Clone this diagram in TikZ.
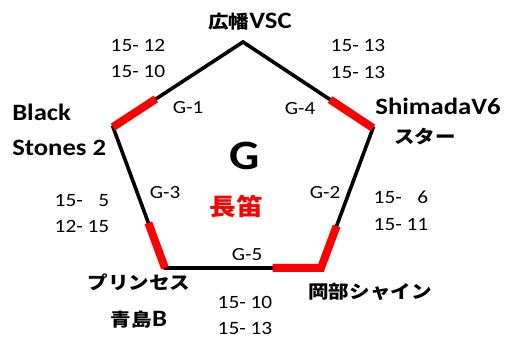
\documentclass[tikz,border=0pt]{standalone}
\usepackage{fontspec}
\setmainfont{Carlito}
\newfontfamily\jpfont{Noto Sans CJK JP}
\usetikzlibrary{calc}
\newcommand{\ja}[1]{{\jpfont\fontsize{15.4}{18}\selectfont #1}}
\begin{document}
\begin{tikzpicture}[
  x=0.75pt, y=-0.75pt,
  every node/.style={inner sep=0pt, yscale=0.88},
  team/.style={font=\bfseries\fontsize{20}{29.8}\selectfont, align=center},
  score/.style={font=\fontsize{16}{22.6}\selectfont, align=left},
  game/.style={font=\fontsize{15.8}{19}\selectfont},
  edge/.style={line width=2.7pt},
  win/.style={line width=6pt, red}
]
\useasboundingbox (0,0) rectangle (507,338);
% corners of the league
\coordinate (T) at (243,42);
\coordinate (L) at (113,127);
\coordinate (R) at (373,128);
\coordinate (BL) at (165,268);
\coordinate (BR) at (321,268);
\draw[edge] (T) -- (R) -- (BR) -- (BL) -- (L) -- cycle;
% winners
\draw[win] (L) -- ($(L)!0.33!(T)$);
\draw[win] (R) -- ($(R)!0.33!(T)$);
\draw[win] (BL) -- ($(BL)!0.32!(L)$);
\draw[win, miter limit=10] ($(BR)!0.31!(BL)$) -- (BR) -- ($(BR)!0.30!(R)$);
% teams
\node[team] (hiro) at (250,22) {\ja{広幡}VSC};
\node[team, align=left, anchor=west] (black) at (12,130) {Black\\Stones 2};
\node[team] (shima) at (438,106) {ShimadaV6};
\node[team] (star) at (425,137) {\ja{スター}};
\node[team, font=\bfseries\fontsize{20}{31.5}\selectfont] (prin) at (139,301.5) {\ja{プリンセス}\\\ja{青島}B};
\node[team] (okabe) at (370,292) {\ja{岡部シャイン}};
% group
\node[font=\bfseries\fontsize{35.6}{40}\selectfont] (grp) at (245,156) {G};
\node[font=\jpfont\bfseries\fontsize{20}{24}\selectfont, text=red] (place) at (236,206) {長笛};
% games
\node[game] (g1) at (188,108) {G-1};
\node[game] (g2) at (325,193) {G-2};
\node[game] (g3) at (165,193) {G-3};
\node[game] (g4) at (300,109) {G-4};
\node[game] (g5) at (247,255) {G-5};
% scores
\node[score] (s1) at (138,58.5) {15- 12\\15- 10};
\node[score] (s2) at (401,210.5) {15- \phantom{1}6\\15- 11};
\node[score] (s3) at (82,213.5) {15- \phantom{1}5\\12- 15};
\node[score] (s4) at (358,59) {15- 13\\15- 13};
\node[score] (s5) at (245,315.5) {15- 10\\15- 13};
\end{tikzpicture}
\end{document}
